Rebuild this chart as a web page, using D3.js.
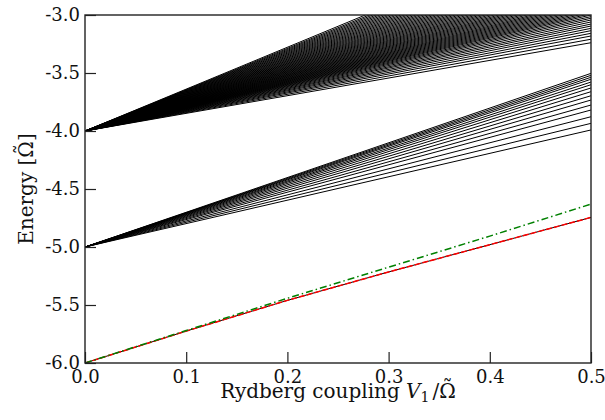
<!DOCTYPE html>
<html>
<head>
<meta charset="utf-8">
<script src="https://cdn.jsdelivr.net/npm/d3@7"></script>
<style>
  body { margin: 0; background: #fff; }
  text { font-family: "DejaVu Serif", serif; }
</style>
</head>
<body>
<div id="CHARTviz"></div>
<script>
// x positions where every level is sampled
var xSamples = [0, 0.5];

// upper fan: starts at -4, value at V1 = 0.5 for each level
var upperStart = -4.0;
var upperEnds = [-3.239, -3.209, -3.181, -3.158, -3.135, -3.115, -3.095, -3.078, -3.060, -3.043,
  -3.028, -3.014, -3.000, -2.988, -2.976, -2.964, -2.952, -2.940, -2.928, -2.916, -2.904,
  -2.892, -2.880, -2.868, -2.855, -2.842, -2.829, -2.816, -2.803, -2.790, -2.777, -2.763,
  -2.749, -2.735, -2.721, -2.707, -2.693, -2.678, -2.663, -2.648, -2.633, -2.618, -2.602,
  -2.586, -2.570, -2.554, -2.538, -2.521, -2.504, -2.487, -2.470, -2.452, -2.434, -2.416,
  -2.398, -2.379, -2.360, -2.341, -2.322, -2.302, -2.282, -2.262, -2.241, -2.220, -2.195];

// lower fan: starts at -5
var lowerStart = -5.0;
var lowerEnds = [-3.503, -3.520, -3.537, -3.554, -3.578, -3.601, -3.629, -3.661, -3.696,
  -3.733, -3.776, -3.819, -3.877, -3.934, -3.991];

// ground level (red dashed over black) and approximation (green dash-dot)
var groundX = [0, 0.1, 0.2, 0.3, 0.4, 0.5];
var groundExact = [-6.0, -5.725, -5.460, -5.215, -4.980, -4.745];
var groundApprox = [-6.0, -5.720, -5.442, -5.174, -4.906, -4.630];

var xTicks = [0, 0.1, 0.2, 0.3, 0.4, 0.5];
var xTickLabels = ["0.0", "0.1", "0.2", "0.3", "0.4", "0.5"];
var yTicks = [-6, -5.5, -5, -4.5, -4, -3.5, -3];
var yTickLabels = ["-6.0", "-5.5", "-5.0", "-4.5", "-4.0", "-3.5", "-3.0"];

var Chart_margin = {top: 15, right: 14, bottom: 57, left: 85};
var Chart_width = 605 - Chart_margin.left - Chart_margin.right;
var Chart_height = 420 - Chart_margin.top - Chart_margin.bottom;

var svg = d3.select("#CHARTviz")
  .append("svg")
  .attr("width", 605)
  .attr("height", 420)
  .append("g")
  .attr("transform", "translate(" + Chart_margin.left + "," + Chart_margin.top + ")");

var x = d3.scaleLinear().domain([0, 0.5]).range([0, Chart_width]);
var y = d3.scaleLinear().domain([-6, -3]).range([Chart_height, 0]);

svg.append("defs").append("clipPath")
  .attr("id", "clip")
  .append("rect")
  .attr("width", Chart_width)
  .attr("height", Chart_height);

var line = d3.line()
  .x(function(d) { return x(d[0]); })
  .y(function(d) { return y(d[1]); });

function fanLevels(start, ends) {
  return ends.map(function(e) { return [[xSamples[0], start], [xSamples[1], e]]; });
}

var plot = svg.append("g").attr("clip-path", "url(#clip)");

plot.selectAll("path.upper")
  .data(fanLevels(upperStart, upperEnds))
  .enter()
  .append("path")
  .attr("class", "upper")
  .attr("d", line)
  .attr("fill", "none")
  .attr("stroke", "black")
  .attr("stroke-width", 1);

plot.selectAll("path.lower")
  .data(fanLevels(lowerStart, lowerEnds))
  .enter()
  .append("path")
  .attr("class", "lower")
  .attr("d", line)
  .attr("fill", "none")
  .attr("stroke", "black")
  .attr("stroke-width", 1);

var exactPts = groundX.map(function(v, i) { return [v, groundExact[i]]; });
var approxPts = groundX.map(function(v, i) { return [v, groundApprox[i]]; });

plot.append("path")
  .attr("d", line(exactPts))
  .attr("fill", "none")
  .attr("stroke", "black")
  .attr("stroke-width", 1);

plot.append("path")
  .attr("d", line(exactPts))
  .attr("fill", "none")
  .attr("stroke", "#ff0000")
  .attr("stroke-width", 1.5)
  .attr("stroke-dasharray", "6,2");

plot.append("path")
  .attr("d", line(approxPts))
  .attr("fill", "none")
  .attr("stroke", "#008000")
  .attr("stroke-width", 1.5)
  .attr("stroke-dasharray", "7,3,1.5,3");

// axes, ticks pointing inward
var xAxis = d3.axisBottom(x)
  .tickValues(xTicks)
  .tickFormat(function(d, i) { return xTickLabels[i]; })
  .tickSize(-11)
  .tickPadding(7);
var yAxis = d3.axisLeft(y)
  .tickValues(yTicks)
  .tickFormat(function(d, i) { return yTickLabels[i]; })
  .tickSize(-11)
  .tickPadding(5);

var XAXIS = svg.append("g")
  .attr("transform", "translate(0," + Chart_height + ")")
  .call(xAxis);
var YAXIS = svg.append("g").call(yAxis);

svg.selectAll(".domain").remove();
svg.selectAll(".tick line").attr("stroke", "#222").attr("stroke-width", 1.2);
svg.selectAll(".tick text")
  .attr("fill", "#111")
  .attr("font-family", "DejaVu Serif")
  .style("font-family", "'DejaVu Serif', serif")
  .style("font-size", "18px");

svg.append("rect")
  .attr("width", Chart_width)
  .attr("height", Chart_height)
  .attr("fill", "none")
  .attr("stroke", "#222")
  .attr("stroke-width", 1.4);

// puts a tilde over the character at index idx of a text node
function addTilde(parent, textSel, idx, baseline, size) {
  var box = textSel.node().getExtentOfChar(idx);
  parent.append("text")
    .attr("x", box.x + box.width / 2)
    .attr("y", baseline - 4)
    .attr("text-anchor", "middle")
    .style("font-size", size + "px")
    .attr("fill", "#111")
    .text("\u02DC");
}

// axis titles
var xt = svg.append("text")
  .attr("x", Chart_width / 2)
  .attr("y", Chart_height + 35)
  .attr("text-anchor", "middle")
  .style("font-size", "20px")
  .attr("fill", "#111");
xt.append("tspan").text("Rydberg coupling ");
xt.append("tspan").style("font-style", "italic").text("V");
xt.append("tspan").attr("dy", 4).style("font-size", "14px").text("1");
xt.append("tspan").attr("dy", -4).attr("dx", 3).text("/\u03A9");
addTilde(svg, xt, 20, Chart_height + 35, 20);

var ytG = svg.append("g")
  .attr("transform", "translate(" + (-52) + "," + (Chart_height / 2) + ") rotate(-90)");
var yt = ytG.append("text")
  .attr("text-anchor", "middle")
  .style("font-size", "20px")
  .attr("fill", "#111")
  .text("Energy [\u03A9]");
addTilde(ytG, yt, 8, 0, 20);
</script>
</body>
</html>
